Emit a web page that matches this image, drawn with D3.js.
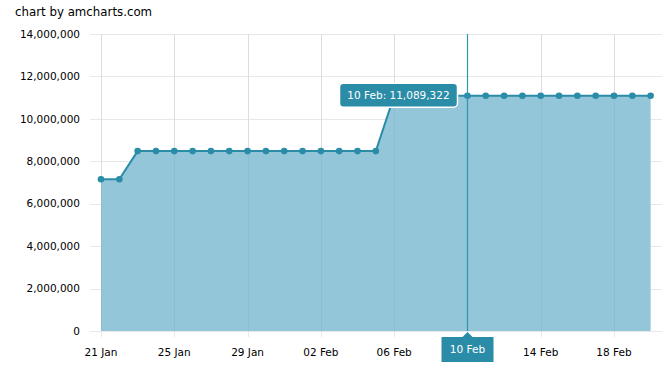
<!DOCTYPE html>
<html><head><meta charset="utf-8">
<script src="https://cdn.jsdelivr.net/npm/d3@7"></script>
<style>body{margin:0;background:#fff;}svg{display:block;font-family:"DejaVu Sans",Verdana,sans-serif;}</style>
</head><body>
<svg id="c" width="666" height="369"></svg>
<script>
const dates = ["2024-01-21","2024-01-22","2024-01-23","2024-01-24","2024-01-25","2024-01-26","2024-01-27","2024-01-28","2024-01-29","2024-01-30","2024-01-31","2024-02-01","2024-02-02","2024-02-03","2024-02-04","2024-02-05","2024-02-06","2024-02-07","2024-02-08","2024-02-09","2024-02-10","2024-02-11","2024-02-12","2024-02-13","2024-02-14","2024-02-15","2024-02-16","2024-02-17","2024-02-18","2024-02-19","2024-02-20"];
const values = [7150000,7150000,8480000,8480000,8480000,8480000,8480000,8480000,8480000,8480000,8480000,8480000,8480000,8480000,8480000,8480000,11089322,11089322,11089322,11089322,11089322,11089322,11089322,11089322,11089322,11089322,11089322,11089322,11089322,11089322,11089322];
const yTicks = [0,2000000,4000000,6000000,8000000,10000000,12000000,14000000];
const xTickDates = ["2024-01-21","2024-01-25","2024-01-29","2024-02-02","2024-02-06","2024-02-10","2024-02-14","2024-02-18"];
const cursorDate = "2024-02-10";

(function(){
const parse = d3.utcParse("%Y-%m-%d");
const data = dates.map((d,i)=>({date:parse(d), value:values[i]}));
const svg = d3.select("#c");
const pLeft=90, pRight=662, pTop=34, pBottom=331;
const x = d3.scaleUtc().domain([parse("2024-01-21"), parse("2024-02-18")]).range([101,614]);
const y = d3.scaleLinear().domain([0,14000000]).range([pBottom, pTop]);
const lineC = "#2b8ca8", fillC = "#93c6d8", gridC = "#e8e8e8", textC="#000";

svg.append("g").selectAll("line").data(yTicks).join("line")
  .attr("x1",pLeft).attr("x2",pRight).attr("y1",d=>Math.round(y(d))+0.5).attr("y2",d=>Math.round(y(d))+0.5)
  .attr("stroke",gridC);
svg.append("g").selectAll("line").data(xTickDates).join("line")
  .attr("x1",d=>Math.round(x(parse(d)))+0.5).attr("x2",d=>Math.round(x(parse(d)))+0.5)
  .attr("y1",pTop).attr("y2",pBottom+6).attr("stroke",gridC);

const area = d3.area().x(d=>x(d.date)).y0(y(0)).y1(d=>y(d.value));
svg.append("path").datum(data).attr("d",area).attr("fill",fillC);
svg.append("g").selectAll("line").data(xTickDates).join("line")
  .attr("x1",d=>Math.round(x(parse(d)))+0.5).attr("x2",d=>Math.round(x(parse(d)))+0.5)
  .attr("y1",pTop).attr("y2",pBottom).attr("stroke","#000").attr("stroke-opacity",0.04);

const line = d3.line().x(d=>x(d.date)).y(d=>y(d.value));
svg.append("path").datum(data).attr("d",line).attr("fill","none").attr("stroke",lineC).attr("stroke-width",2);
svg.append("g").selectAll("circle").data(data).join("circle")
  .attr("cx",d=>x(d.date)).attr("cy",d=>y(d.value)).attr("r",3.3).attr("fill",lineC);

svg.append("g").selectAll("text").data(yTicks).join("text")
  .attr("x",80).attr("y",d=>y(d)).attr("dy","0.35em").attr("text-anchor","end")
  .attr("font-size",10.5).attr("fill",textC).text(d=>d3.format(",")(d));
const fmt = d3.utcFormat("%d %b");
svg.append("g").selectAll("text").data(xTickDates.filter(d=>d!==cursorDate)).join("text")
  .attr("x",d=>x(parse(d))).attr("y",352).attr("dy","0.35em").attr("text-anchor","middle")
  .attr("font-size",10.5).attr("fill",textC).text(d=>fmt(parse(d)));

svg.append("text").attr("x",15).attr("y",12).attr("dy","0.35em").attr("font-size",11.8).attr("fill","#000").text("chart by amcharts.com");

const cd = parse(cursorDate);
const cx = Math.round(x(cd))+0.5;
const cv = data.find(d=>+d.date===+cd).value;
svg.append("line").attr("x1",cx).attr("x2",cx).attr("y1",pTop).attr("y2",pBottom).attr("stroke","#2f95b0").attr("stroke-width",1.2);
svg.append("path").attr("d",`M${cx-26},337 L${cx-5},337 L${cx},332 L${cx+5},337 L${cx+26},337 L${cx+26},362 L${cx-26},362 Z`).attr("fill",lineC);
svg.append("text").attr("x",cx).attr("y",349).attr("dy","0.35em").attr("text-anchor","middle").attr("font-size",10.5).attr("fill","#fff").text(fmt(cd));
const by = y(cv);
svg.append("rect").attr("x",339.5).attr("y",by-12.5).attr("width",118).attr("height",24).attr("rx",4)
  .attr("fill",lineC).attr("stroke","#fff").attr("stroke-width",1.5);
svg.append("text").attr("x",398.5).attr("y",by).attr("dy","0.35em").attr("text-anchor","middle").attr("font-size",10.5).attr("fill","#fff")
  .text(fmt(cd)+": "+d3.format(",")(cv));
})();
</script>
</body></html>
